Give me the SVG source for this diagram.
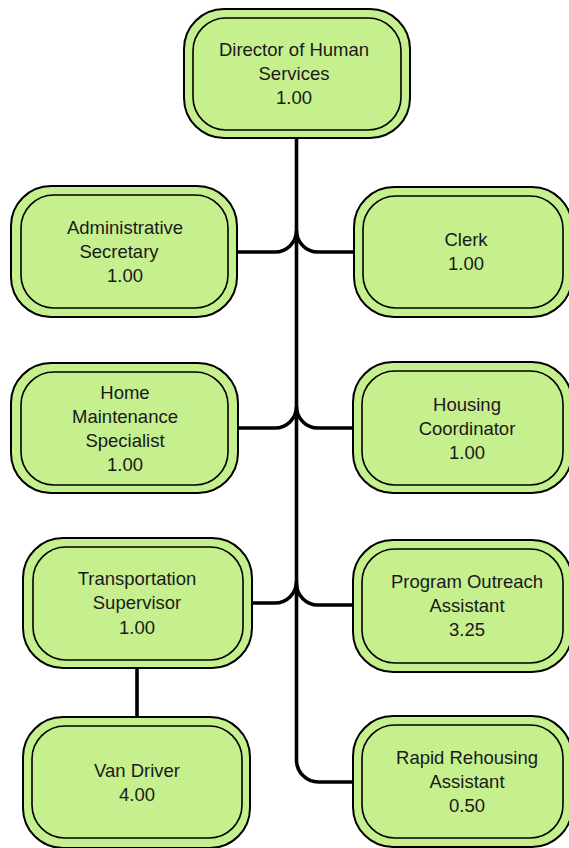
<svg xmlns="http://www.w3.org/2000/svg" width="569" height="848" viewBox="0 0 569 848">
<style>
.o{fill:#c6ef8e;stroke:#000;stroke-width:2}
.i{fill:#c6ef8e;stroke:#000;stroke-width:1.6}
.t{font-family:"Liberation Sans",Arial,sans-serif;font-size:18.5px;fill:#1a1a1a;text-anchor:middle}
.c{fill:none;stroke:#000;stroke-width:3.6}
</style>
<rect width="569" height="848" fill="#fff"/>
<g id="connectors">
<path class="c" d="M296.5,138 V760 A22,22 0 0 0 318.5,782 H353"/>
<path class="c" d="M237,252 H275 A21.5,21.5 0 0 0 296.5,230.5 A21.5,21.5 0 0 0 318,252 H354"/>
<path class="c" d="M238,428 H275 A21.5,21.5 0 0 0 296.5,406.5 A21.5,21.5 0 0 0 318,428 H353"/>
<path class="c" d="M252,603 H275 A21.5,21.5 0 0 0 296.5,581.5"/>
<path class="c" d="M296.5,583.5 A21.5,21.5 0 0 0 318,605 H353"/>
<path class="c" d="M137,668 V717"/>
</g>
<g id="director">
<rect class="o" x="184" y="9" width="226" height="129" rx="40"/>
<rect class="i" x="193" y="18" width="208" height="112" rx="33"/>
<text class="t" x="294" y="56">Director of Human</text>
<text class="t" x="294" y="80">Services</text>
<text class="t" x="294" y="104">1.00</text>
</g>
<g id="admin">
<rect class="o" x="11" y="186" width="226" height="131" rx="40"/>
<rect class="i" x="21" y="195" width="207" height="113" rx="33"/>
<text class="t" x="125" y="234">Administrative</text>
<text class="t" x="119" y="258">Secretary</text>
<text class="t" x="125" y="282">1.00</text>
</g>
<g id="clerk">
<rect class="o" x="354" y="187" width="218" height="130" rx="40"/>
<rect class="i" x="363" y="196" width="200" height="112" rx="33"/>
<text class="t" x="466" y="246">Clerk</text>
<text class="t" x="466" y="270">1.00</text>
</g>
<g id="home">
<rect class="o" x="11" y="363" width="227" height="130" rx="40"/>
<rect class="i" x="21" y="372" width="207" height="113" rx="33"/>
<text class="t" x="125" y="399">Home</text>
<text class="t" x="125" y="423">Maintenance</text>
<text class="t" x="125" y="447">Specialist</text>
<text class="t" x="125" y="471">1.00</text>
</g>
<g id="housing">
<rect class="o" x="353" y="362" width="219" height="131" rx="40"/>
<rect class="i" x="362" y="371" width="201" height="114" rx="33"/>
<text class="t" x="467" y="411">Housing</text>
<text class="t" x="467" y="435">Coordinator</text>
<text class="t" x="467" y="459">1.00</text>
</g>
<g id="transport">
<rect class="o" x="23" y="538" width="229" height="130" rx="40"/>
<rect class="i" x="33" y="547" width="210" height="113" rx="33"/>
<text class="t" x="137" y="585">Transportation</text>
<text class="t" x="137" y="609">Supervisor</text>
<text class="t" x="137" y="634">1.00</text>
</g>
<g id="outreach">
<rect class="o" x="353" y="540" width="219" height="132" rx="40"/>
<rect class="i" x="362" y="549" width="201" height="114" rx="33"/>
<text class="t" x="467" y="588">Program Outreach</text>
<text class="t" x="467" y="612">Assistant</text>
<text class="t" x="467" y="636">3.25</text>
</g>
<g id="van">
<rect class="o" x="23" y="717" width="227" height="131" rx="40"/>
<rect class="i" x="32" y="726" width="210" height="112" rx="33"/>
<text class="t" x="137" y="777">Van Driver</text>
<text class="t" x="137" y="801">4.00</text>
</g>
<g id="rehousing">
<rect class="o" x="353" y="716" width="219" height="131" rx="40"/>
<rect class="i" x="362" y="725" width="201" height="113" rx="33"/>
<text class="t" x="467" y="764">Rapid Rehousing</text>
<text class="t" x="467" y="788">Assistant</text>
<text class="t" x="467" y="812">0.50</text>
</g>
</svg>
